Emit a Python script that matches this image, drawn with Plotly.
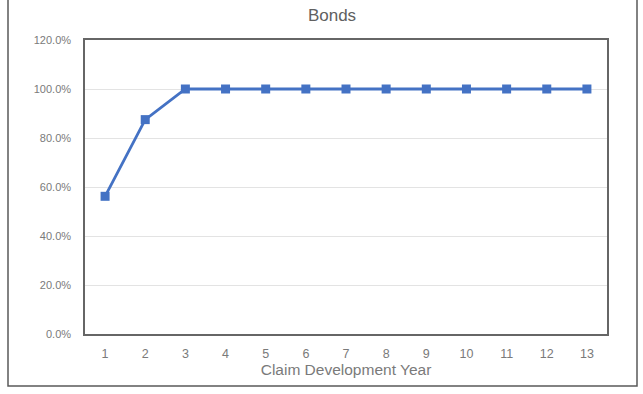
import plotly.graph_objects as go

# Cumulative share of claims paid by development year
dev_years = [str(i) for i in range(1, 14)]
pct_paid = [56.2, 87.5, 100.0, 100.0, 100.0, 100.0, 100.0, 100.0, 100.0, 100.0, 100.0, 100.0, 100.0]
y_ticks = [0, 20, 40, 60, 80, 100, 120]
y_tick_labels = ["0.0%", "20.0%", "40.0%", "60.0%", "80.0%", "100.0%", "120.0%"]

W, H = 643, 394
L, R, T, B = 85, 36, 40, 60
pw, ph = W - L - R, H - T - B

fig = go.Figure(
    go.Scatter(
        x=dev_years,
        y=pct_paid,
        mode="lines+markers",
        line=dict(color="#4472C4", width=2.8),
        marker=dict(symbol="square", size=9, color="#4472C4"),
        hoverinfo="skip",
    )
)

title_color = "#606060"
tick_color = "#7a7a7a"
font_family = "Liberation Sans, Arial, sans-serif"

# Outer chart frame
fig.add_shape(
    type="rect", xref="paper", yref="paper",
    x0=(8 - L) / pw, x1=(637 - L) / pw,
    y0=-(386 - (T + ph)) / ph, y1=(T + ph + 3) / ph,
    line=dict(color="#595959", width=1.5), fillcolor="rgba(0,0,0,0)",
    layer="below",
)

fig.update_layout(
    width=W, height=H,
    margin=dict(l=L, r=R, t=T, b=B),
    paper_bgcolor="white", plot_bgcolor="white",
    showlegend=False,
    font=dict(family=font_family, color=tick_color, size=11),
    title=dict(
        text="Bonds", x=332 / W, xanchor="center",
        y=1 - 15 / H, yanchor="middle",
        font=dict(size=17, color=title_color, family=font_family),
    ),
    xaxis=dict(
        type="category",
        range=[-0.5, 12.5],
        showgrid=False,
        showline=True, linecolor="#666666", linewidth=1.5, mirror=True,
        ticks="outside", ticklen=7, tickcolor="rgba(0,0,0,0)",
        tickfont=dict(size=12.5, color=tick_color),
        title=dict(text="Claim Development Year", font=dict(size=15.5, color=tick_color), standoff=4),
        zeroline=False,
    ),
    yaxis=dict(
        range=[0, 120],
        tickvals=y_ticks, ticktext=y_tick_labels,
        showgrid=True, gridcolor="#e3e3e3", gridwidth=1,
        showline=True, linecolor="#666666", linewidth=1.5, mirror=True,
        ticks="outside", ticklen=10, tickcolor="rgba(0,0,0,0)",
        tickfont=dict(size=11, color=tick_color),
        zeroline=False,
    ),
)

fig.write_html("out.html")
